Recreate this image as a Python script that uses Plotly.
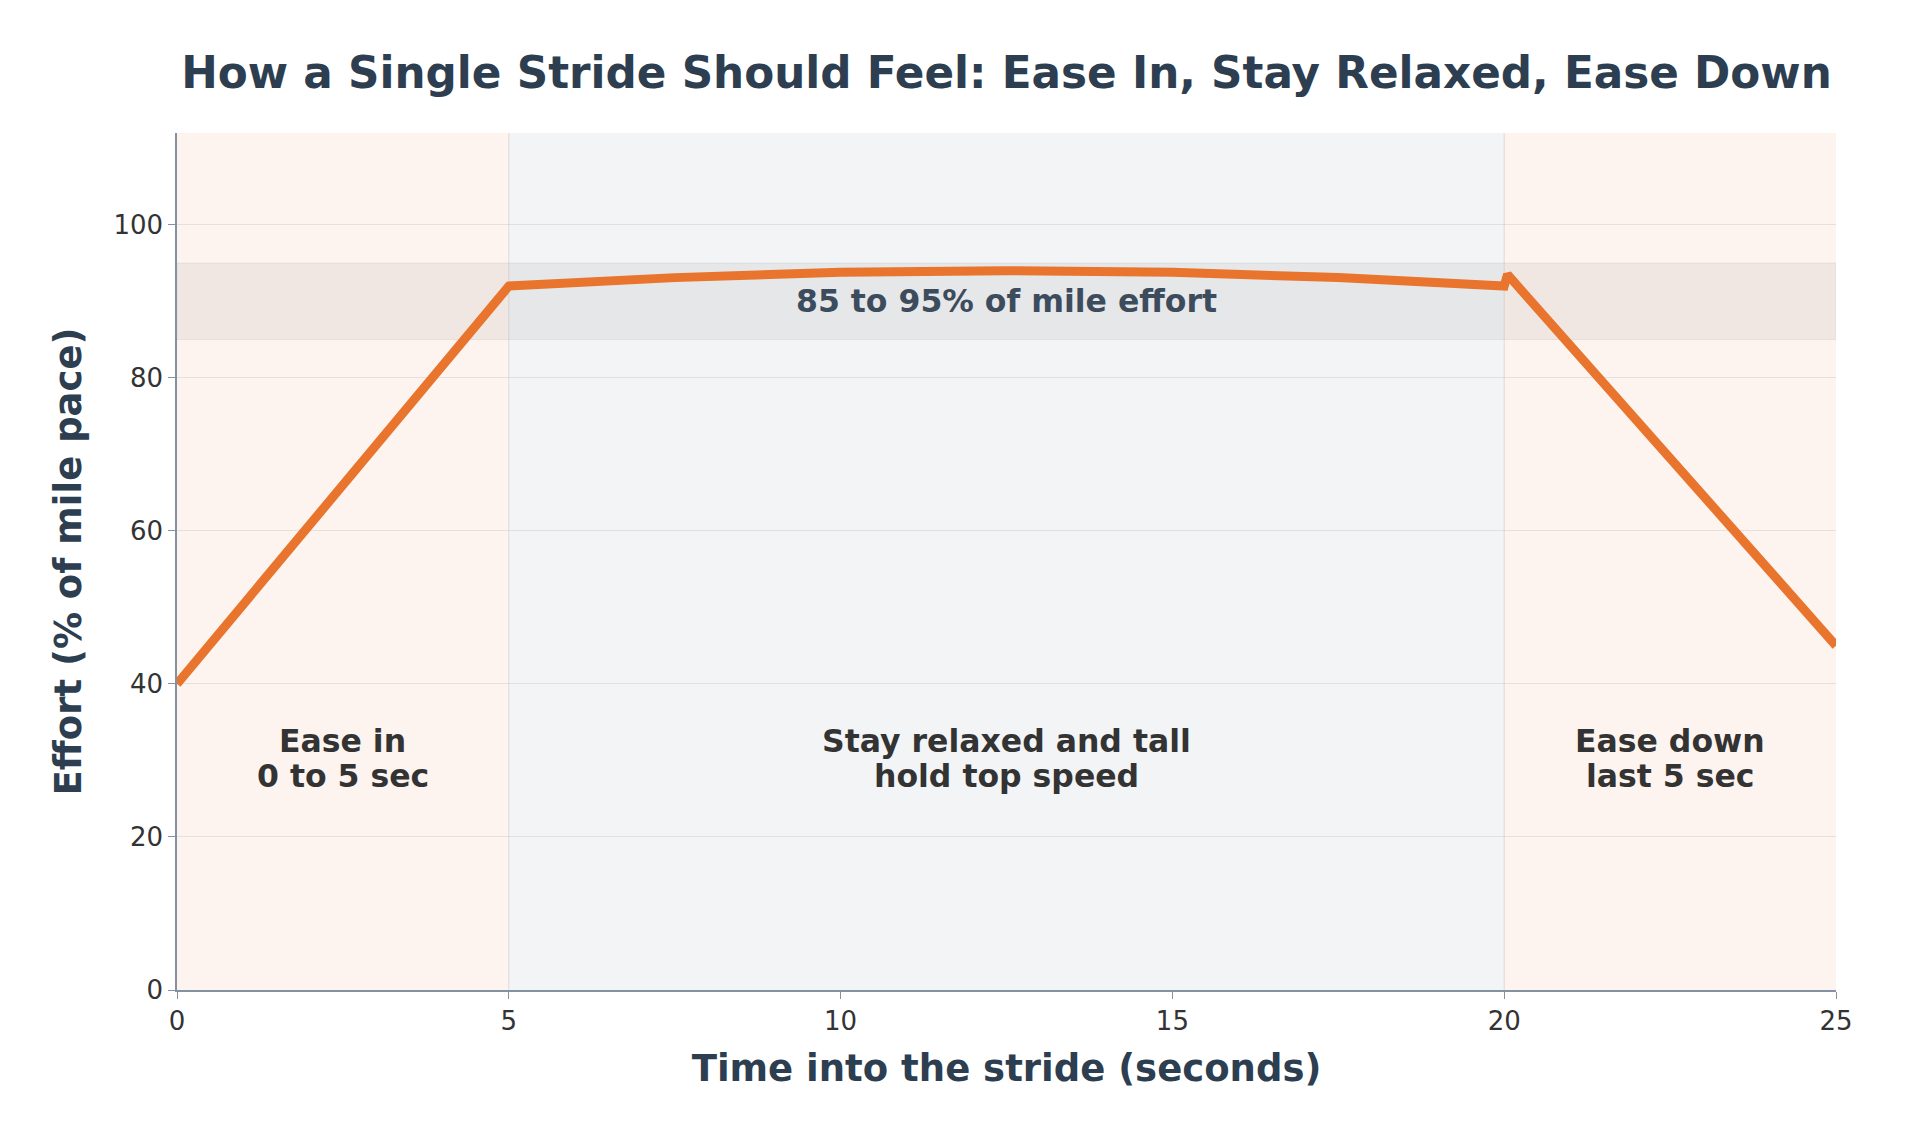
import plotly.graph_objects as go

# Data
time_s = [0, 5, 7.5, 10, 12.5, 15, 17.5, 20, 20.05, 25]
effort = [40, 92, 93.1, 93.8, 94, 93.8, 93.1, 92, 93.5, 45]

phase_starts = [0, 5, 20]
phase_ends = [5, 20, 25]
phase_line1 = ["Ease in", "Stay relaxed and tall", "Ease down"]
phase_line2 = ["0 to 5 sec", "hold top speed", "last 5 sec"]
phase_colors = ["rgba(250,228,215,0.4)", "rgba(226,230,235,0.45)", "rgba(250,228,215,0.4)"]
label_y1 = 32.5
label_y2 = 28.0

band_low, band_high = 85, 95
band_label = "85 to 95% of mile effort"

x_ticks = [0, 5, 10, 15, 20, 25]
y_ticks = [0, 20, 40, 60, 80, 100]

FONT = "DejaVu Sans"
fig = go.Figure()

shapes = []
for s, e, c in zip(phase_starts, phase_ends, phase_colors):
    shapes.append(dict(type="rect", xref="x", yref="y", x0=s, x1=e, y0=0, y1=112,
                       fillcolor=c, line_width=0, layer="below"))
shapes.append(dict(type="rect", xref="x", yref="y", x0=0, x1=25, y0=band_low, y1=band_high,
                   fillcolor="rgba(150,140,130,0.12)", line=dict(color="rgba(150,150,150,0.15)", width=1),
                   layer="below"))
for xv in [5, 20]:
    shapes.append(dict(type="line", xref="x", yref="y", x0=xv, x1=xv, y0=0, y1=112,
                       line=dict(color="rgba(180,170,165,0.35)", width=1), layer="below"))

fig.add_trace(go.Scatter(x=time_s, y=effort, mode="lines",
                         line=dict(color="#E8742D", width=9), hoverinfo="skip", showlegend=False))

annotations = []
for s, e, t1, t2 in zip(phase_starts, phase_ends, phase_line1, phase_line2):
    for t, yy in ((t1, label_y1), (t2, label_y2)):
        annotations.append(dict(x=(s + e) / 2, y=yy, xref="x", yref="y", text="<b>" + t + "</b>",
                                showarrow=False, font=dict(family=FONT, size=31.5, color="#333333"),
                                align="center"))
annotations.append(dict(x=12.5, y=90.1, xref="x", yref="y", text="<b>" + band_label + "</b>",
                        showarrow=False, font=dict(family=FONT, size=31.5, color="#3d4c5c")))

fig.update_layout(
    width=1905, height=1138,
    paper_bgcolor="white", plot_bgcolor="white",
    margin=dict(l=177, r=69, t=133, b=148),
    title=dict(text="<b>How a Single Stride Should Feel: Ease In, Stay Relaxed, Ease Down</b>",
               x=0.5, xanchor="center", xref="paper", yref="container", y=1 - 73 / 1138,
               yanchor="middle",
               font=dict(family=FONT, size=43.7, color="#2c3e50")),
    font=dict(family=FONT, color="#333333"),
    shapes=shapes, annotations=annotations,
    xaxis=dict(range=[0, 25], tickvals=x_ticks, showgrid=False, zeroline=False,
               showline=True, linecolor="#8391a2", linewidth=2, ticks="outside", ticklen=7,
               tickcolor="#8391a2", tickfont=dict(family=FONT, size=26, color="#333333"),
               title=dict(text="<b>Time into the stride (seconds)</b>", standoff=20,
                          font=dict(family=FONT, size=37, color="#2c3e50"))),
    yaxis=dict(range=[0, 112], tickvals=y_ticks, showgrid=True, gridcolor="rgba(200,200,200,0.45)",
               gridwidth=1, zeroline=False, showline=True, linecolor="#8391a2", linewidth=1.5,
               ticks="outside", ticklen=7, tickcolor="#8391a2",
               tickfont=dict(family=FONT, size=26, color="#333333"),
               title=dict(text="<b>Effort (% of mile pace)</b>", standoff=20,
                          font=dict(family=FONT, size=37, color="#2c3e50"))),
)

fig.write_html("out.html")
